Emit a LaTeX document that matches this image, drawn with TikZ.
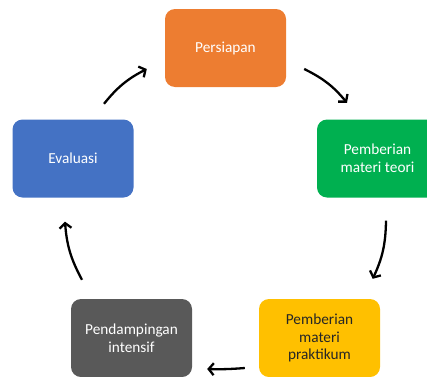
\documentclass[tikz,border=0pt]{standalone}
\usepackage{fontspec}
\setmainfont{Carlito}
\usetikzlibrary{arrows.meta}
\definecolor{cOrange}{HTML}{ED7D31}
\definecolor{cGreen}{HTML}{00B050}
\definecolor{cBlue}{HTML}{4472C4}
\definecolor{cGray}{HTML}{595959}
\definecolor{cYellow}{HTML}{FFC000}
\definecolor{cDark}{HTML}{262626}
\tikzset{
  box/.style={rounded corners=10pt, minimum width=121pt, minimum height=78pt,
    inner sep=0pt, align=center, text=white,
    font=\fontsize{15.3pt}{17.6pt}\selectfont},
  cyc/.style={line width=2.3pt, -{Straight Barb[length=5pt,width=12pt,line width=2.3pt]}},
}
\begin{document}
\begin{tikzpicture}[x=1pt,y=1pt]
\useasboundingbox (0,0) rectangle (427,376);
\node[box, fill=cOrange] (pers) at (225.5,328) {Persiapan};
\node[box, fill=cGreen] (teori) at (377.5,217.5) {Pemberian\\materi teori};
\node[box, fill=cBlue] (eval) at (73,217.5) {Evaluasi};
\node[box, fill=cGray] (pend) at (131.5,38) {Pendampingan\\intensif};
\node[box, fill=cYellow, text=cDark] (prak) at (319.5,38) {Pemberian\\materi\\praktikum};
\coordinate (a1s) at ([shift={(31,15.5)}]eval.north);
\coordinate (a1e) at ([shift={(-18,-21)}]pers.west);
\coordinate (a2s) at ([shift={(18,-21)}]pers.east);
\coordinate (a2e) at ([shift={(-30.5,16.5)}]teori.north);
\coordinate (a3s) at ([shift={(8.5,-23)}]teori.south);
\coordinate (a3e) at ([shift={(-7.5,20)}]prak.north east);
\coordinate (a4s) at ([shift={(-14,-30)}]prak.west);
\coordinate (a4e) at ([shift={(15,-31)}]pend.east);
\coordinate (a5s) at ([shift={(-49.5,19)}]pend.north);
\coordinate (a5e) at ([shift={(-8,-24)}]eval.south);
\draw[cyc] (a1s) to[bend left=12] (a1e);
\draw[cyc] (a2s) to[bend left=12] (a2e);
\draw[cyc] (a3s) to[bend left=12] (a3e);
\draw[cyc] (a4s) to[bend left=3] (a4e);
\draw[cyc] (a5s) to[bend left=12] (a5e);
\end{tikzpicture}
\end{document}
